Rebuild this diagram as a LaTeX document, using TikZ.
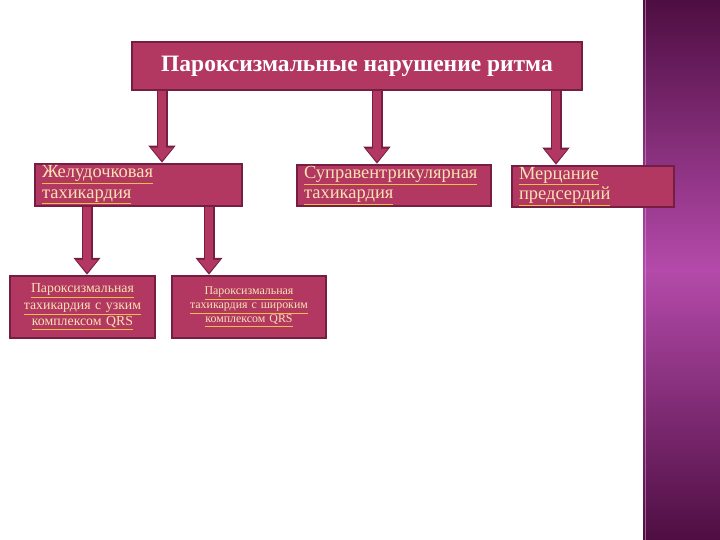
\documentclass[tikz,border=0pt]{standalone}
\usepackage{fontspec}
\setmainfont{Liberation Serif}
\usetikzlibrary{arrows.meta}
\definecolor{crim}{RGB}{178,56,98}
\definecolor{crimdark}{RGB}{118,30,66}
\definecolor{cream}{RGB}{250,226,176}
\definecolor{gold}{RGB}{238,190,70}
\definecolor{plumdark}{RGB}{78,14,66}
\definecolor{plumlight}{RGB}{180,74,170}
\newcommand\lnk[1]{\textcolor{gold}{\underline{\textcolor{cream}{#1}}}}
\tikzset{
  box/.style={draw=crimdark,fill=crim,line width=2.5pt,inner sep=4pt},
  twoline/.style={box,inner xsep=7pt,inner ysep=0pt,align=left,font=\fontsize{18.5}{20.5}\selectfont},
  bigarrow/.style={draw=crim,line width=8pt,shorten >=2pt,-{Triangle[width=21pt,length=13pt]},
    preaction={draw=crimdark,line width=11pt,shorten >=0pt,-{Triangle[width=26pt,length=17pt]}}}
}
\begin{document}
\begin{tikzpicture}[x=1pt,y=-1pt]
\useasboundingbox (0,0) rectangle (720,540);
\fill[white] (0,0) rectangle (720,540);
\shade[top color=plumdark,bottom color=plumdark,middle color=plumlight] (643,0) rectangle (720,540);
\draw[plumlight!60!white,line width=1pt,opacity=.6] (645,0) -- (645,540);
\node[box,minimum width=450pt,minimum height=48pt,text=white,font=\fontsize{23.5}{26}\selectfont\bfseries] (top) at (357,66) {Пароксизмальные нарушение ритма};
\node[twoline,minimum width=207pt,minimum height=42pt,text width=193pt] (vent) at (138.5,185) {\lnk{Желудочковая}\\\lnk{тахикардия}};
\node[twoline,minimum width=194pt,minimum height=41pt,text width=180pt] (supra) at (394,185.5) {\lnk{Суправентрикулярная}\\\lnk{тахикардия}};
\node[twoline,minimum width=162pt,minimum height=41pt,text width=148pt] (atr) at (593,186.5) {\lnk{Мерцание}\\\lnk{предсердий}};
\node[box,minimum width=145pt,minimum height=62pt,inner sep=2pt,text width=141pt,align=center,font=\fontsize{13.8}{16.5}\selectfont] (narrow) at (82.5,307) {\lnk{Пароксизмальная}\\\lnk{тахикардия с узким}\\\lnk{комплексом QRS}};
\node[box,minimum width=154pt,minimum height=62pt,inner sep=2pt,text width=150pt,align=center,font=\fontsize{11.9}{14}\selectfont] (wide) at (249,307) {\lnk{Пароксизмальная}\\\lnk{тахикардия с широким}\\\lnk{комплексом QRS}};
\draw[bigarrow] (162,0 |- top.south) -- (162,0 |- vent.north);
\draw[bigarrow] (377,0 |- top.south) -- (377,0 |- supra.north);
\draw[bigarrow] (556,0 |- top.south) -- (556,0 |- atr.north);
\draw[bigarrow] (87,0 |- vent.south) -- (87,0 |- narrow.north);
\draw[bigarrow] (209,0 |- vent.south) -- (209,0 |- wide.north);
\end{tikzpicture}
\end{document}
